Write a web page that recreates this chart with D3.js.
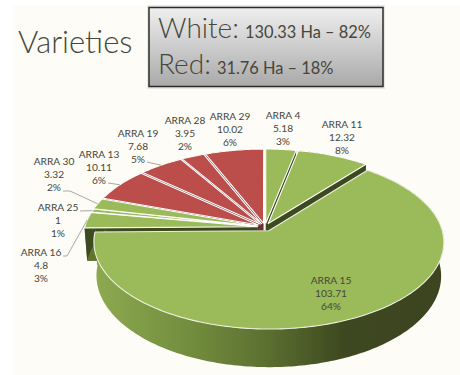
<!DOCTYPE html>
<html>
<head>
<meta charset="utf-8">
<title>Varieties</title>
<script src="https://cdn.jsdelivr.net/npm/d3@7"></script>
<style>
  html, body { margin: 0; padding: 0; background: #fff; }
  svg { display: block; }
  text { font-family: Lato, "Open Sans", sans-serif; fill: #46463a; }
</style>
</head>
<body>
<script>
// data
const varieties = ["ARRA 4","ARRA 11","ARRA 15","ARRA 16","ARRA 25","ARRA 30","ARRA 13","ARRA 19","ARRA 28","ARRA 29"]
const hectares = [5.18,12.32,103.71,4.8,1,3.32,10.11,7.68,3.95,10.02]
const percents = ["3%","8%","64%","3%","1%","2%","6%","5%","2%","6%"]
const grapeType = ["white","white","white","white","white","white","red","red","red","red"]
const summaryRows = [["White:","130.33 Ha – 82%"],["Red:","31.76 Ha – 18%"]]

// label layout: centre x, first line y, optional leader elbow
const labelLayout = [
  {x:283,y:115},{x:342,y:124},{x:331,y:280},
  {x:41,y:252,leader:[[63,256],[67,256]]},
  {x:58,y:207,leader:[[80,211]]},
  {x:54,y:161,leader:[[63,191],[70,191]]},
  {x:99,y:154,leader:[[108,183]]},
  {x:138,y:133,leader:[[147,162]]},
  {x:185,y:120},{x:230,y:116}
]

const w = 460, h = 375
const svg = d3.select("body").append("svg").attr("width",w).attr("height",h)
const defs = svg.append("defs")

// backdrop
svg.append("rect").attr("width",w).attr("height",h).attr("fill","#fff")
svg.append("rect").attr("x",13).attr("y",6).attr("width",w-13).attr("height",h-6).attr("fill","#fdfcf7")

// title and summary box
svg.append("text").attr("x",18).attr("y",53).attr("font-size",31).attr("font-weight",300).text("Varieties")

let boxGrad = defs.append("linearGradient").attr("id","box").attr("x1",0).attr("x2",0).attr("y1",0).attr("y2",1)
boxGrad.append("stop").attr("offset",0).attr("stop-color","#efefef")
boxGrad.append("stop").attr("offset",1).attr("stop-color","#a9a9a9")
svg.append("rect").attr("x",147).attr("y",5).attr("width",238).attr("height",84).attr("fill","#e9e8e4")
svg.append("rect").attr("x",149).attr("y",7.5).attr("width",234).attr("height",79)
    .attr("fill","url(#box)").attr("stroke","#2b2b2b").attr("stroke-width",1.5)
let summary = svg.selectAll(".summary").data(summaryRows).enter().append("text")
    .attr("class","summary").attr("x",158).attr("y",(d,i)=>38+i*36)
summary.append("tspan").attr("font-size",28).attr("font-weight",300).text(d=>d[0])
summary.append("tspan").attr("font-size",16.4).attr("dx",6).text(d=>d[1])

// pie geometry, unit circle seen in perspective
const cx = 265, cy = 227, rx = 172.5, ry = 84.6, k = 0.128
const depth = 33, bottomScale = 0.985
const explodeOther = 0.045, explodeMain = 0.05

const pie = d3.pie().sort(null).value(d=>d)(hectares)
const angleStep = Math.PI/180

function project(a,r,ex,ey,low){
    let u = Math.sin(a)*r + ex
    let v = -Math.cos(a)*r + ey
    let q = 1 - k*v
    let s = low ? bottomScale : 1
    return [cx + s*rx*u/q, cy + ry*v/q + (low ? depth/q : 0)]
}

const slices = pie.map((p,i)=>{
    let mid = (p.startAngle+p.endAngle)/2
    let e = varieties[i]=="ARRA 15" ? explodeMain : explodeOther
    return {i:i,start:p.startAngle,end:p.endAngle,mid:mid,ex:Math.sin(mid)*e,ey:-Math.cos(mid)*e}
})

function rim(s,low){
    let n = Math.max(2,Math.ceil((s.end-s.start)/angleStep))
    return d3.range(n+1).map(j=>project(s.start+(s.end-s.start)*j/n,1,s.ex,s.ey,low))
}

// gradient on the big outer wall
let wallGrad = defs.append("linearGradient").attr("id","wall").attr("gradientUnits","userSpaceOnUse")
    .attr("x1",95).attr("x2",441).attr("y1",0).attr("y2",0)
wallGrad.append("stop").attr("offset",0).attr("stop-color","#8daa50")
wallGrad.append("stop").attr("offset",0.3).attr("stop-color","#708a3c")
wallGrad.append("stop").attr("offset",0.5).attr("stop-color","#5b6f30")
wallGrad.append("stop").attr("offset",0.72).attr("stop-color","#3e4820")
wallGrad.append("stop").attr("offset",1).attr("stop-color","#3c4420")

const topColor = {white:"#9bba59",red:"#bb4d4b"}
const line = d3.line()
const quad = pts => line(pts)+"Z"

function drawWalls(s){
    let big = varieties[s.i]=="ARRA 15"
    let red = grapeType[s.i]=="red"
    let apex = project(0,0,s.ex,s.ey,false), apexLow = project(0,0,s.ex,s.ey,true)
    let top = rim(s,false), low = rim(s,true)
    let cutLeft = red ? "#6d3231" : "#3d4a1f"
    let cutRight = red ? "#6d3231" : "#5f7530"
    let g = svg.append("g")
    g.append("path").attr("d",quad([apex,top[0],low[0],apexLow])).attr("fill",cutRight)
    g.append("path").attr("d",quad([apex,top[top.length-1],low[low.length-1],apexLow])).attr("fill",cutLeft)
    g.append("path").attr("d",quad(top.concat(low.slice().reverse())))
        .attr("fill",big ? "url(#wall)" : (red ? "#6d3231" : "#3d4a1f"))
}

function drawTop(s){
    let big = varieties[s.i]=="ARRA 15"
    svg.append("path")
        .attr("d",quad([project(0,0,s.ex,s.ey,false)].concat(rim(s,false))))
        .attr("fill",topColor[grapeType[s.i]])
        .attr("stroke",big ? "#ecefe0" : "#fff").attr("stroke-width",1.1).attr("stroke-linejoin","round")
}

// red walls go behind the green ones, the big slice goes on top of everything
const redOnes = slices.filter(s=>grapeType[s.i]=="red")
const greenOnes = slices.filter(s=>grapeType[s.i]=="white" && varieties[s.i]!="ARRA 15")
const bigOne = slices.filter(s=>varieties[s.i]=="ARRA 15")
redOnes.forEach(drawWalls)
greenOnes.forEach(drawWalls)
redOnes.forEach(drawTop)
greenOnes.forEach(drawTop)
bigOne.forEach(drawWalls)
bigOne.forEach(drawTop)

// leader lines end on the slice rim
labelLayout.forEach((l,i)=>{
    if(!l.leader) return
    let s = slices[i]
    svg.append("path")
        .attr("d",line(l.leader.concat([project(s.mid,1,s.ex,s.ey,false)])))
        .attr("fill","none").attr("stroke","#a9a9a4").attr("stroke-width",1)
})

// labels
const lineGap = 13.4
let labels = svg.selectAll(".label").data(varieties).enter().append("text")
    .attr("class","label").attr("text-anchor","middle").attr("font-size",10.2)
labels.each(function(d,i){
    let rows = [d,String(hectares[i]),percents[i]]
    d3.select(this).selectAll("tspan").data(rows).enter().append("tspan")
        .attr("x",labelLayout[i].x).attr("y",(r,j)=>labelLayout[i].y+3.6+j*lineGap).text(r=>r)
})
</script>
</body>
</html>
